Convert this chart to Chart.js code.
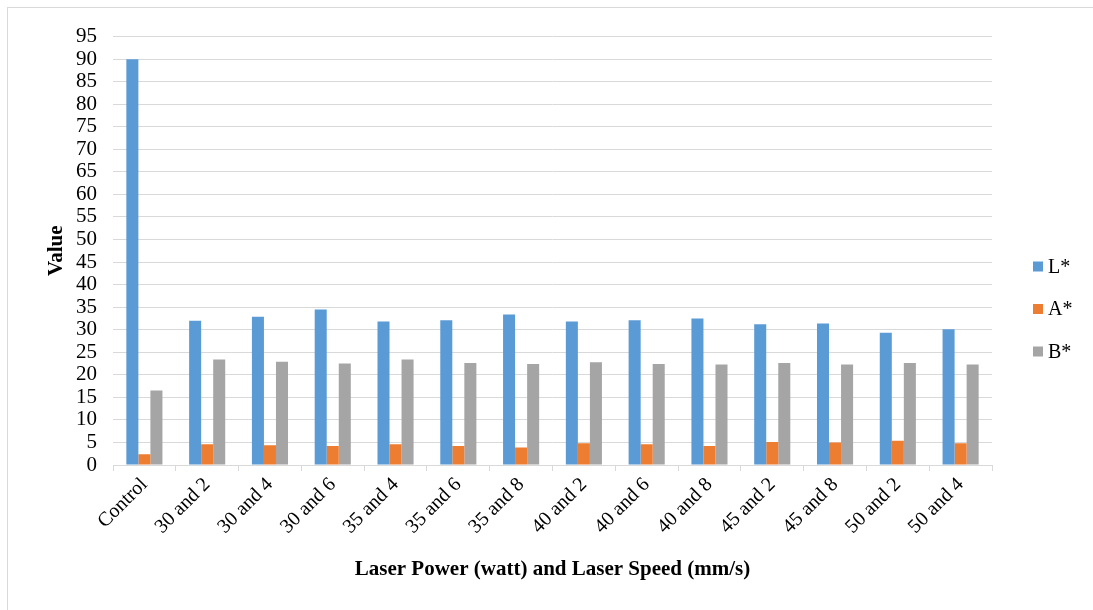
<!DOCTYPE html>
<html>
<head>
<meta charset="utf-8">
<script src="https://cdn.jsdelivr.net/npm/chart.js@4/dist/chart.umd.min.js"></script>
<style>
  html, body { margin: 0; padding: 0; background: #ffffff; overflow: hidden; width: 1093px; height: 610px; }
  #frame {
    position: absolute; left: 7px; top: 7px; width: 1085px; height: 602px;
    border-top: 1px solid #d9d9d9; border-left: 1px solid #d9d9d9;
  }
  #wrap { position: absolute; left: 8px; top: 8px; width: 1085px; height: 602px; }
</style>
</head>
<body>
<div id="frame"></div>
<div id="wrap"><canvas id="chart" width="1085" height="602"></canvas></div>
<script>
// Treatment groups: laser power (W) and laser speed (mm/s)
const categories = ['Control', '30 and 2', '30 and 4', '30 and 6', '35 and 4', '35 and 6', '35 and 8',
                    '40 and 2', '40 and 6', '40 and 8', '45 and 2', '45 and 8', '50 and 2', '50 and 4'];

// Colour coordinates per group
const lValues = [90.0, 32.0, 32.9, 34.5, 31.8, 32.1, 33.4, 31.8, 32.1, 32.5, 31.2, 31.4, 29.3, 30.1];
const aValues = [2.4, 4.6, 4.4, 4.2, 4.6, 4.2, 3.9, 4.8, 4.6, 4.2, 5.1, 5.0, 5.4, 4.8];
const bValues = [16.5, 23.4, 22.9, 22.5, 23.4, 22.6, 22.4, 22.8, 22.4, 22.3, 22.6, 22.3, 22.6, 22.3];

const seriesNames = ['L*', 'A*', 'B*'];
const seriesColors = ['#5b9bd5', '#ed7d31', '#a5a5a5'];

const yMin = 0, yMax = 95, yStep = 5;

const serif = '"Liberation Serif", "Times New Roman", serif';
const gridGray = '#d9d9d9';

// Legend drawn as a vertical column to the right of the plot
const sideLegend = {
  id: 'sideLegend',
  afterDraw(chart) {
    const ctx = chart.ctx;
    const x = chart.chartArea.right + 41;
    const midY = chart.height / 2;
    const gap = 42.5;
    ctx.save();
    ctx.font = '20px ' + serif;
    ctx.textBaseline = 'middle';
    ctx.textAlign = 'left';
    chart.data.datasets.forEach((ds, i) => {
      const y = midY + (i - 1) * gap;
      ctx.fillStyle = ds.backgroundColor;
      ctx.fillRect(x, y - 5, 10, 10);
      ctx.fillStyle = '#000000';
      ctx.fillText(ds.label, x + 15, y + 1);
    });
    ctx.restore();
  }
};

new Chart(document.getElementById('chart'), {
  type: 'bar',
  data: {
    labels: categories,
    datasets: [
      { label: seriesNames[0], data: lValues, backgroundColor: seriesColors[0] },
      { label: seriesNames[1], data: aValues, backgroundColor: seriesColors[1] },
      { label: seriesNames[2], data: bValues, backgroundColor: seriesColors[2] }
    ]
  },
  options: {
    responsive: false,
    animation: false,
    devicePixelRatio: 1,
    layout: { padding: { top: 27, right: 101, bottom: 0, left: 0 } },
    datasets: { bar: { categoryPercentage: 0.575, barPercentage: 1.0 } },
    plugins: {
      legend: { display: false },
      tooltip: { enabled: false }
    },
    scales: {
      x: {
        grid: {
          offset: true,
          drawOnChartArea: false,
          drawTicks: true,
          tickLength: 6,
          color: gridGray,
          lineWidth: 1
        },
        border: { display: true, color: gridGray, width: 1 },
        ticks: {
          color: '#000000',
          font: { family: serif, size: 20 },
          minRotation: 45,
          maxRotation: 45,
          padding: 2,
          autoSkip: false
        },
        title: {
          display: true,
          text: 'Laser Power (watt) and Laser Speed (mm/s)',
          color: '#000000',
          font: { family: serif, size: 21, weight: 'bold' },
          padding: { top: 0, bottom: 28 }
        },
        afterFit(scale) { scale.height = 145; }
      },
      y: {
        min: yMin,
        max: yMax,
        grid: { color: gridGray, lineWidth: 1, drawTicks: false },
        border: { display: false },
        ticks: {
          stepSize: yStep,
          autoSkip: false,
          color: '#000000',
          font: { family: serif, size: 21 },
          padding: 16
        },
        title: {
          display: true,
          text: 'Value',
          color: '#000000',
          font: { family: serif, size: 21, weight: 'bold' },
          padding: { top: 36, bottom: 0 }
        },
        afterFit(scale) { scale.width = 105; }
      }
    }
  },
  plugins: [sideLegend]
});
</script>
</body>
</html>
